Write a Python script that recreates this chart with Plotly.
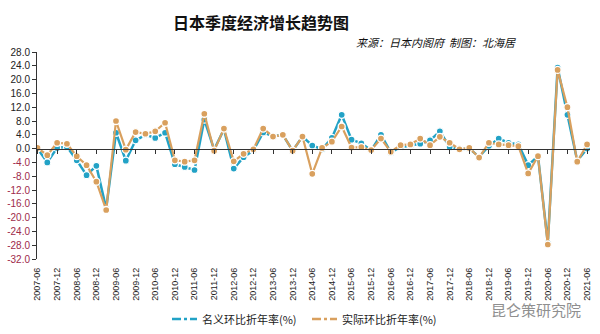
import plotly.graph_objects as go

# quarters 2007-06 .. 2021-06
quarters = []
for y in range(2007, 2022):
    for m in ("03", "06", "09", "12"):
        quarters.append(f"{y}-{m}")
quarters = quarters[quarters.index("2007-06"):quarters.index("2021-06") + 1]

nominal = [0.0, -4.0, 0.2, 0.5, -3.4, -7.7, -5.0, -17.4, 4.6, -3.5,
           2.4, 4.0, 3.1, 4.6, -4.5, -5.3, -6.2, 8.4, -0.3, 5.6,
           -5.8, -2.5, -0.5, 4.7, 3.6, 4.0, -0.6, 3.5, 0.9, -0.2,
           3.1, 9.8, 2.6, 1.5, -0.5, 4.0, -1.1, 0.4, 1.0, 1.4,
           2.4, 5.0, 0.5, -0.2, 0.0, -2.4, 0.8, 2.9, 1.7, 1.2,
           -4.8, -2.2, -27.3, 23.5, 9.8, -3.5, 0.0]
real = [0.2, -1.9, 1.7, 1.4, -2.2, -4.8, -9.6, -17.8, 8.0, -0.3,
        4.8, 4.3, 5.0, 7.5, -3.4, -3.8, -3.4, 10.1, -0.6, 5.8,
        -3.7, -1.5, -0.2, 5.8, 3.5, 4.0, -0.6, 3.5, -7.3, 0.2,
        2.0, 6.4, 0.3, 0.4, -0.4, 2.9, -0.9, 1.0, 1.2, 2.9,
        1.0, 3.4, 1.7, -0.2, 0.2, -2.6, 1.7, 1.2, 1.0, 0.7,
        -7.2, -2.2, -27.8, 22.8, 12.0, -3.8, 1.2]
series_names = ["名义环比折年率(%)", "实际环比折年率(%)"]

tick_idx = list(range(0, len(quarters), 2))
tick_lab = [quarters[i] for i in tick_idx]
yticks = list(range(28, -33, -4))

BLUE = "#22A2C6"
ORANGE = "#D9A05E"

W, H = 600, 334
pl, pr, pt, pb = 37, 10, 52, 75
pw, ph = W - pl - pr, H - pt - pb


def px(xp):
    return (xp - pl) / pw


def py(yp):
    return (H - pb - yp) / ph


x = list(range(len(quarters)))
fig = go.Figure()
for vals, col, w in ((nominal, BLUE, 2.5), (real, ORANGE, 2.2)):
    fig.add_trace(go.Scatter(
        x=x, y=vals, mode="lines+markers", showlegend=False,
        line=dict(color=col, width=w),
        marker=dict(size=7, color=col, line=dict(color="white", width=1.3)),
    ))

ytext = []
for v in yticks:
    s = f"{v:.1f}"
    if v < 0:
        s = f"<span style='color:#9E2A4A'>{s}</span>"
    ytext.append(s)

fig.add_trace(go.Scatter(x=[None], y=[None], xaxis="x2", showlegend=False))

annotations = [
    dict(text="<b>日本季度经济增长趋势图</b>", x=px(261), y=py(22),
         xanchor="center", yanchor="middle",
         font=dict(size=16, family="Noto Sans CJK SC", color="#111")),
    dict(text="<i>来源：日本内阁府  制图：北海居</i>", x=px(518), y=py(42),
         xanchor="right", yanchor="middle",
         font=dict(size=11, family="Noto Sans CJK SC", color="#111")),
    dict(text="昆仑策研究院", x=px(536), y=py(309),
         xanchor="center", yanchor="middle",
         font=dict(size=15, family="Noto Sans CJK SC", color="#8f8f8f")),
]
shapes = []
for name, col, x0 in ((series_names[0], BLUE, 172), (series_names[1], ORANGE, 312)):
    shapes.append(dict(type="line", xref="paper", yref="paper",
                       x0=px(x0), x1=px(x0 + 25), y0=py(319), y1=py(319),
                       line=dict(color=col, width=2.5, dash="dashdot")))
    annotations.append(dict(text=name, x=px(x0 + 28), y=py(319),
                            xanchor="left", yanchor="middle",
                            font=dict(size=11, family="Noto Sans CJK SC",
                                      color="#222")))
for a in annotations:
    a.update(xref="paper", yref="paper", showarrow=False)

fig.update_layout(
    width=W, height=H,
    margin=dict(l=pl, r=pr, t=pt, b=pb),
    paper_bgcolor="white", plot_bgcolor="white",
    showlegend=False,
    font=dict(family="Liberation Sans, Noto Sans CJK SC", size=10, color="#222"),
    xaxis=dict(range=[-0.05, 56.3], tickvals=tick_idx, ticktext=tick_lab,
               tickangle=-90, showgrid=False, zeroline=False, showline=False,
               ticks="", ticklabelstandoff=6,
               tickfont=dict(size=9, color="#222"), automargin=False),
    xaxis2=dict(range=[-0.05, 56.3], overlaying="x", anchor="free",
                position=32 / 60, side="bottom", tickvals=tick_idx,
                showticklabels=False, showline=True, linecolor="#333",
                linewidth=1, ticks="outside", ticklen=4, tickcolor="#333",
                showgrid=False, zeroline=False, automargin=False),
    yaxis=dict(range=[-32, 28], tickvals=yticks, ticktext=ytext,
               showgrid=False, zeroline=False, showline=True,
               linecolor="#333", linewidth=1, ticks="outside", ticklen=4,
               tickcolor="#333", tickfont=dict(size=10, color="#222"),
               automargin=False),
    annotations=annotations,
    shapes=shapes,
)

fig.write_html("out.html")
